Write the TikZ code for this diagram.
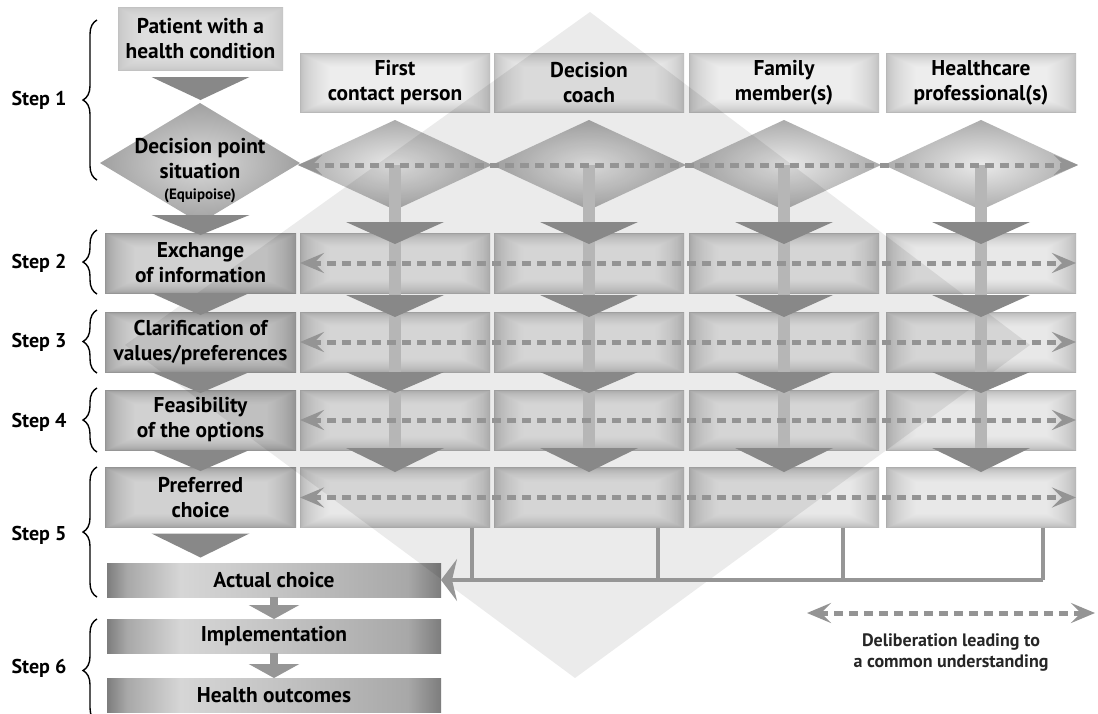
\documentclass[tikz,border=0pt]{standalone}
\usepackage{fontspec}
\setmainfont{PT Sans}
\usetikzlibrary{arrows.meta,calc,decorations.pathreplacing,shapes.geometric}

\definecolor{tric}{RGB}{136,136,136}
\definecolor{stemc}{RGB}{182,182,182}
\definecolor{dashc}{RGB}{148,148,148}
\definecolor{lnc}{RGB}{150,150,150}
\definecolor{dbo}{RGB}{172,172,172}
\definecolor{dbi}{RGB}{234,234,234}
\definecolor{ldo}{RGB}{160,160,160}
\definecolor{ldi}{RGB}{218,218,218}
\definecolor{bard}{RGB}{125,125,125}
\definecolor{barm}{RGB}{168,168,168}
\definecolor{barl}{RGB}{214,214,214}

\pgfdeclarehorizontalshading{barshade}{100bp}{color(0bp)=(bard); color(25bp)=(bard); color(28bp)=(barm); color(36bp)=(barl); color(50bp)=(barl!80!bard); color(70bp)=(barm); color(75bp)=(bard); color(100bp)=(bard)}

% rectangular "inner glow" shading: name, edge grey, centre grey
\newcommand\glowshade[3]{%
\pgfdeclarefunctionalshading{#1}{\pgfpointorigin}{\pgfpoint{100bp}{100bp}}{}{
 exch dup 25 sub exch 75 exch sub 2 copy gt {exch} if pop 8 div
 exch dup 25 sub exch 75 exch sub 2 copy gt {exch} if pop 12 div
 2 copy gt {exch} if pop
 dup 1 gt {pop 1} if dup 0 lt {pop 0} if
 sqrt #3 #2 sub mul #2 add dup dup
}}
\glowshade{lglow}{0.58}{0.82}
\glowshade{cglow}{0.68}{0.91}
\glowshade{hglow}{0.72}{0.93}
\glowshade{pglow}{0.76}{0.87}

\newcommand\dtri[3]{\fill[tric] ($#1+(-49,#2)$) -- ($#1+(49,#2)$) -- ($#1+(0,#3)$) -- cycle;}

\begin{document}
\begin{tikzpicture}[x=0.5pt,y=-0.5pt,
  txt/.style={font=\bfseries\fontsize{10.7}{12.5}\selectfont, align=center, text=black},
  lbox/.style={txt, rectangle, inner sep=0pt, outer sep=0pt, minimum width=95.5pt, minimum height=30pt, shading=lglow},
  patbox/.style={lbox, minimum width=82.5pt, minimum height=31.5pt, shading=pglow},
  cbox/.style={rectangle, inner sep=0pt, outer sep=0pt, minimum width=95pt, minimum height=30pt, shading=cglow},
  hbox/.style={txt, cbox, minimum height=29.5pt, shading=hglow},
  cdia/.style={diamond, inner sep=0pt, outer sep=0pt, minimum width=97pt, minimum height=45pt, inner color=dbi, outer color=dbo},
  ldia/.style={cdia, minimum width=100pt, minimum height=60pt, inner color=ldi, outer color=ldo},
  bar/.style={txt, rectangle, inner sep=0pt, outer sep=0pt, minimum width=167pt, minimum height=17pt, shading=barshade},
  delib/.style={draw=dashc, line width=2.5pt, dash pattern=on 4.5pt off 3pt,
     {Stealth[length=12pt,width=10pt,inset=5pt]}-{Stealth[length=12pt,width=10pt,inset=5pt]}},
  ln/.style={draw=lnc, line width=1.8pt},
  sarr/.style={draw=lnc, line width=4pt, -{Triangle[length=7pt,width=25pt]}},
  steplbl/.style={font=\bfseries\fontsize{10}{12}\selectfont},
  brc/.style={decorate, decoration={brace, amplitude=7pt}, line width=0.7pt}
]
\path[use as bounding box, fill=white] (0,0) rectangle (1098,713);

% ---------- left column ----------
\node[patbox] (pat) at (200.5,38.5) {Patient with a\\health condition};
\node[ldia] (dp) at (200,163) {};
\node[txt] (dptext) at (200,171) {Decision point\\situation\\[-2pt]{\fontsize{7.5}{9}\selectfont (Equipoise)}};
\node[lbox] (b2) at (200.5,263) {Exchange\\of information};
\node[lbox] (b3) at (200.5,342) {Clarification of\\values/preferences};
\node[lbox] (b4) at (200.5,420) {Feasibility\\of the options};
\node[lbox] (b5) at (200.5,497.5) {Preferred\\choice};
\node[bar] (act) at (274,580) {Actual choice};
\node[bar] (imp) at (274,636) {Implementation};
\node[bar] (out) at (274,695) {Health outcomes};

% ---------- columns ----------
\node[hbox] (h1) at (395,82.5) {First\\contact person};
\node[hbox] (h2) at (589,82.5) {Decision\\coach};
\node[hbox] (h3) at (784,82.5) {Family\\member(s)};
\node[hbox] (h4) at (981,82.5) {Healthcare\\professional(s)};
\foreach \x/\i in {395/1,589/2,784/3,981/4}{
  \node[cdia] (d\i) at (\x,165) {};
  \node[cbox] (r2c\i) at (\x,263) {};
  \node[cbox] (r3c\i) at (\x,342) {};
  \node[cbox] (r4c\i) at (\x,420) {};
  \node[cbox] (r5c\i) at (\x,497.5) {};
}

% ---------- large background diamond ----------
\fill[black, fill opacity=0.08] (590,12) -- (1030,345) -- (575,678) -- (125,345) -- cycle;

% ---------- stems and arrow heads ----------
\foreach \i in {1,...,4}{
  \fill[stemc] ($(d\i.center)+(-6,0)$) rectangle ($(r4c\i.south)+(6,8)$);
  \dtri{(r2c\i.north)}{-11}{11}
  \dtri{(r2c\i.south)}{2}{24}
  \dtri{(r3c\i.south)}{0}{21}
  \dtri{(r4c\i.south)}{-2}{22}
}
\dtri{(pat.south)}{7}{30}
\dtri{(b2.north)}{-18}{2}
\dtri{(b2.south)}{0}{22}
\dtri{(b3.south)}{0}{21}
\dtri{(b4.south)}{0}{21}
\dtri{(b5.south)}{6}{30}

% ---------- deliberation arrows ----------
\draw[delib] (d1.west) -- (d4.east);
\draw[delib] (r2c1.west) -- (r2c4.east);
\draw[delib] (r3c1.west) -- (r3c4.east);
\draw[delib] (r4c1.west) -- (r4c4.east);
\draw[delib] (r5c1.west) -- (r5c4.east);

% ---------- to actual choice ----------
\coordinate (j1) at (472,580);
\coordinate (j2) at (658,580);
\coordinate (j3) at (843,580);
\coordinate (j4) at (1043,580);
\draw[ln] (j1 |- r5c1.south) -- (j1);
\draw[ln] (j2 |- r5c2.south) -- (j2);
\draw[ln] (j3 |- r5c3.south) -- (j3);
\draw[ln] (j4 |- r5c4.south) -- (j4);
\draw[ln, -{Stealth[length=8pt,width=21pt,inset=2.5pt]}] (j4) -- (act.east);
\draw[sarr] (act.south) -- (imp.north);
\draw[sarr] (imp.south) -- (out.north);

% ---------- legend ----------
\coordinate (lg1) at (807,613);
\coordinate (lg2) at (1095,613);
\draw[delib] (lg1) -- (lg2);
\node[font=\bfseries\fontsize{9}{10.5}\selectfont, align=center, text=black!85] (lgt) at (951,652) {Deliberation leading to\\a common understanding};

% ---------- steps ----------
\node[steplbl] (s1) at (39,100) {Step 1};
\node[steplbl] (s2) at (39,263) {Step 2};
\node[steplbl] (s3) at (39,342) {Step 3};
\node[steplbl] (s4) at (39,422) {Step 4};
\node[steplbl] (s5) at (39,535) {Step 5};
\node[steplbl] (s6) at (39,668) {Step 6};
\draw[brc] (97,180) -- (97,20);
\draw[brc] (97,294) -- (97,230);
\draw[brc] (97,373) -- (97,310);
\draw[brc] (97,452) -- (97,388);
\draw[brc] (97,597) -- (97,467);
\draw[brc] (97,722) -- (97,619);
\end{tikzpicture}
\end{document}
